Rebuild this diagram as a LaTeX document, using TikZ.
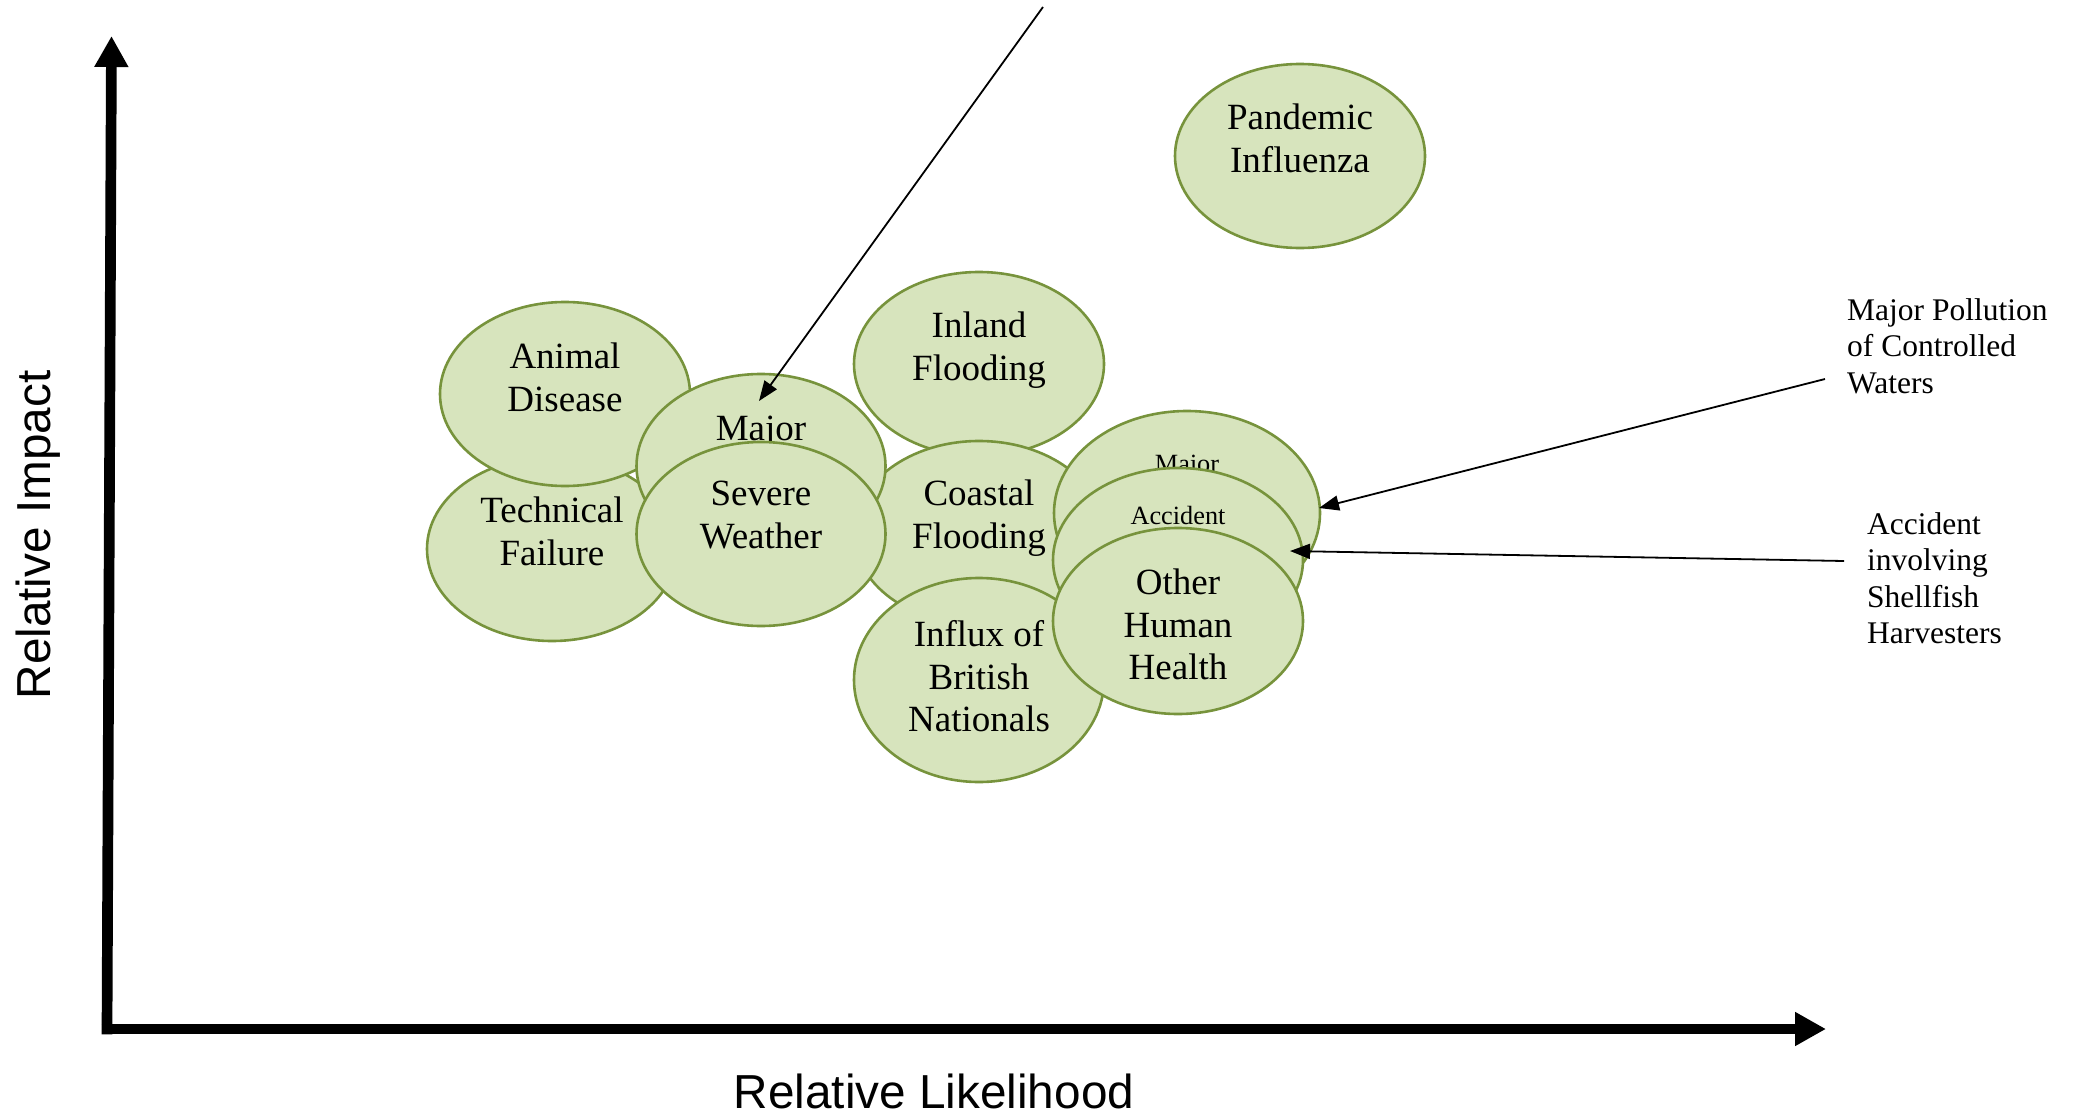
\documentclass[tikz,border=0pt]{standalone}
\usepackage{fontspec}
\setmainfont{Liberation Serif}
\setsansfont{Liberation Sans}
\usetikzlibrary{shapes.geometric,arrows.meta,calc}
\definecolor{blobfill}{HTML}{D7E4BD}
\definecolor{blobline}{HTML}{77933C}
% centred and left-aligned stacks whose reference point is the first baseline
\newcommand\cellstack[1]{\vtop{\halign{\hfil##\hfil\cr#1\crcr}}}
\newcommand\leftstack[1]{\vtop{\halign{##\hfil\cr#1\crcr}}}
\begin{document}
\begin{tikzpicture}[x=1pt,y=-1pt,
  blob/.style={ellipse, draw=blobline, fill=blobfill, line width=2.6pt, inner sep=0pt},
  blobtext/.style={anchor=base, inner sep=0pt, font=\fontsize{37}{42.5}\selectfont},
  smalltext/.style={anchor=base, inner sep=0pt, font=\fontsize{26.3}{30}\selectfont},
  note/.style={anchor=base west, inner sep=0pt, font=\fontsize{31.5}{36.6}\selectfont},
  axislabel/.style={anchor=base, inner sep=0pt, font=\sffamily\fontsize{47.7}{55}\selectfont},
  axisline/.style={line width=10.7pt, -{Triangle[length=31pt,width=32pt]}},
  pointer/.style={line width=1.8pt, -{Triangle[length=20pt,width=15pt]}}]

\useasboundingbox (0,0) rectangle (2080,1116);

% axes
\coordinate (origin) at (107,1029);
\coordinate (ytip) at (111.5,36);
\coordinate (xtip) at (1826,1029);
\draw[axisline] ($(origin)+(0,5.35)$) -- (ytip);
\draw[axisline] ($(origin)+(-5.35,0)$) -- (xtip);
\node[axislabel, rotate=90] (ylab) at (50,535) {Relative Impact};
\node[axislabel] (xlab) at (934,1108) {Relative Likelihood};

% risk ellipses, back to front
\node[blob, minimum width=250, minimum height=184] (pand) at (1300,156) {};
\node[blobtext] (pandT) at ($(pand.north)+(0,67)$) {\cellstack{Pandemic\cr Influenza}};

\node[blob, minimum width=250, minimum height=184] (tech) at (552,549) {};
\node[blobtext] (techT) at ($(tech.north)+(0,67)$) {\cellstack{Technical\cr Failure}};

\node[blob, minimum width=250, minimum height=184] (animal) at (565,394) {};
\node[blobtext] (animalT) at ($(animal.north)+(0,68)$) {\cellstack{Animal\cr Disease}};

\node[blob, minimum width=250, minimum height=184] (inland) at (979,364) {};
\node[blobtext] (inlandT) at ($(inland.north)+(0,67)$) {\cellstack{Inland\cr Flooding}};

\node[blob, minimum width=250, minimum height=184] (coastal) at (979,533) {};
\node[blobtext] (coastalT) at ($(coastal.north)+(0,66)$) {\cellstack{Coastal\cr Flooding}};

\node[blob, minimum width=250, minimum height=204] (influx) at (979,680) {};
\node[blobtext] (influxT) at ($(influx.north)+(0,70)$) {\cellstack{Influx of\cr British\cr Nationals}};

\node[blob, minimum width=249, minimum height=184] (majorL) at (761,466) {};
\node[blobtext] (majorLT) at ($(majorL.north)+(0,68)$) {Major};

\node[blob, minimum width=249, minimum height=184] (severe) at (761,534) {};
\node[blobtext] (severeT) at ($(severe.north)+(0,65)$) {\cellstack{Severe\cr Weather}};

\node[blob, minimum width=266, minimum height=204] (majorR) at (1187,513) {};
\node[smalltext] (majorRT) at ($(majorR.north)+(0,63)$) {Major};

\node[blob, minimum width=250, minimum height=184] (accident) at (1178,560) {};
\node[smalltext] (accidentT) at ($(accident.north)+(0,58)$) {Accident};

\node[blob, minimum width=250, minimum height=186] (health) at (1178,621) {};
\node[blobtext] (healthT) at ($(health.north)+(0,68)$) {\cellstack{Other\cr Human\cr Health}};

% side notes
\node[note] (pollution) at (1847,320) {\leftstack{Major Pollution\cr of Controlled\cr Waters}};
\node[note] (shellfish) at (1867,534) {\leftstack{Accident\cr involving\cr Shellfish\cr Harvesters}};

% pointers
\coordinate (topend) at (1043,7);
\coordinate (majorLtip) at (759,401);
\coordinate (pollutionend) at (1825,379);
\coordinate (majorRtip) at (1319,508);
\coordinate (shellfishend) at (1844,561);
\coordinate (accidenttip) at (1290,551);
\draw[pointer] (topend) -- (majorLtip);
\draw[pointer] (pollutionend) -- (majorRtip);
\draw[pointer] (shellfishend) -- (accidenttip);
\end{tikzpicture}
\end{document}
